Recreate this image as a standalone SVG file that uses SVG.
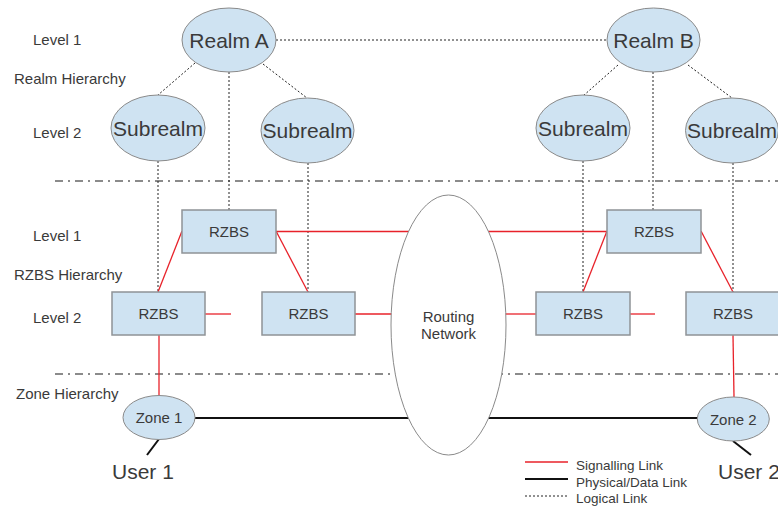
<svg xmlns="http://www.w3.org/2000/svg" width="778" height="506" viewBox="0 0 778 506">
<style>
text{font-family:"Liberation Sans",Arial,sans-serif;fill:#3a3a3a}
.lbl{font-size:15px}
.big{font-size:21px;text-anchor:middle}
.mid{font-size:15px;text-anchor:middle}
.leg{font-size:13.5px}
.node{fill:#cfe3f2;stroke:#8a8a8a;stroke-width:1}
.rect{fill:#cfe3f2;stroke:#8f9396;stroke-width:1.5}
.logic{stroke:#222;stroke-width:1;stroke-dasharray:2 2;fill:none}
.sig{stroke:#e8222a;stroke-width:1.3;fill:none}
.phys{stroke:#111;stroke-width:2;fill:none}
.sep{stroke:#666;stroke-width:1.5;stroke-dasharray:8 5 2 5;fill:none}
</style>
<rect width="778" height="506" fill="#fff"/>
<g id="labels">
<text class="lbl" x="33" y="45">Level 1</text>
<text class="lbl" x="14" y="84">Realm Hierarchy</text>
<text class="lbl" x="33" y="138">Level 2</text>
<text class="lbl" x="33" y="241">Level 1</text>
<text class="lbl" x="14" y="280">RZBS Hierarchy</text>
<text class="lbl" x="33" y="323">Level 2</text>
<text class="lbl" x="16" y="399">Zone Hierarchy</text>
</g>
<g id="separators">
<line class="sep" x1="55" y1="181" x2="778" y2="181"/>
<line class="sep" x1="55" y1="374" x2="778" y2="374"/>
</g>
<g id="connectors">
<line class="logic" x1="276" y1="40" x2="607" y2="40"/>
<line class="logic" x1="195" y1="63" x2="158" y2="95"/>
<line class="logic" x1="263" y1="64" x2="307" y2="98"/>
<line class="logic" x1="229" y1="72" x2="229" y2="210"/>
<line class="logic" x1="618" y1="65" x2="583" y2="96"/>
<line class="logic" x1="688" y1="65" x2="732" y2="98"/>
<line class="logic" x1="653" y1="72" x2="653" y2="210"/>
<line class="logic" x1="158" y1="161" x2="158" y2="292"/>
<line class="logic" x1="308" y1="163" x2="308" y2="292"/>
<line class="logic" x1="583" y1="161" x2="583" y2="292"/>
<line class="logic" x1="733" y1="163" x2="733" y2="292"/>
<line class="sig" x1="182" y1="231" x2="158" y2="292"/>
<line class="sig" x1="276" y1="231" x2="308" y2="292"/>
<line class="sig" x1="276" y1="231.5" x2="607" y2="231.5"/>
<line class="sig" x1="607" y1="231" x2="583" y2="292"/>
<line class="sig" x1="701" y1="231" x2="733" y2="292"/>
<line class="sig" x1="205" y1="314" x2="231" y2="314"/>
<line class="sig" x1="355" y1="314" x2="395" y2="314"/>
<line class="sig" x1="505" y1="314" x2="536" y2="314"/>
<line class="sig" x1="630" y1="314" x2="655" y2="314"/>
<line class="sig" x1="159" y1="335" x2="159" y2="396"/>
<line class="sig" x1="733" y1="335" x2="734" y2="397"/>
<line class="phys" x1="195" y1="418" x2="697" y2="418"/>
<line class="phys" x1="159" y1="439" x2="147" y2="455"/>
<line class="phys" x1="733" y1="441" x2="751" y2="455"/>
</g>
<g id="routing-network">
<ellipse cx="448.5" cy="325" rx="57.5" ry="130" fill="#fff" stroke="#8a8a8a" stroke-width="1"/>
<text class="mid" x="448.5" y="322">Routing</text>
<text class="mid" x="448.5" y="339">Network</text>
</g>
<g id="realm-a"><ellipse class="node" cx="229" cy="40" rx="47" ry="32"/><text class="big" x="229" y="48">Realm A</text></g>
<g id="realm-b"><ellipse class="node" cx="653.5" cy="40" rx="46.5" ry="32"/><text class="big" x="653.5" y="48">Realm B</text></g>
<g id="subrealm-1"><ellipse class="node" cx="158" cy="128" rx="47" ry="33"/><text class="big" x="158" y="136">Subrealm</text></g>
<g id="subrealm-2"><ellipse class="node" cx="307.5" cy="130.5" rx="46.5" ry="32.5"/><text class="big" x="307.5" y="138">Subrealm</text></g>
<g id="subrealm-3"><ellipse class="node" cx="583" cy="128" rx="47" ry="33"/><text class="big" x="583" y="136">Subrealm</text></g>
<g id="subrealm-4"><ellipse class="node" cx="732" cy="130.5" rx="46.5" ry="32.5"/><text class="big" x="732" y="138">Subrealm</text></g>
<g id="rzbs-l1-a"><rect class="rect" x="182" y="210" width="94" height="43"/><text class="mid" x="229" y="237">RZBS</text></g>
<g id="rzbs-l1-b"><rect class="rect" x="607" y="210" width="94" height="43"/><text class="mid" x="654" y="237">RZBS</text></g>
<g id="rzbs-l2-a"><rect class="rect" x="112" y="292" width="93" height="43"/><text class="mid" x="158.5" y="319">RZBS</text></g>
<g id="rzbs-l2-b"><rect class="rect" x="262" y="292" width="93" height="43"/><text class="mid" x="308.5" y="319">RZBS</text></g>
<g id="rzbs-l2-c"><rect class="rect" x="536" y="292" width="94" height="43"/><text class="mid" x="583" y="319">RZBS</text></g>
<g id="rzbs-l2-d"><rect class="rect" x="686" y="292" width="94" height="43"/><text class="mid" x="733" y="319">RZBS</text></g>
<g id="zone-1"><ellipse class="node" cx="159" cy="417.5" rx="36" ry="22"/><text class="mid" x="159" y="423">Zone 1</text></g>
<g id="zone-2"><ellipse class="node" cx="733.3" cy="419" rx="36" ry="22"/><text class="mid" x="733.3" y="425">Zone 2</text></g>
<g id="user-1"><text x="112" y="479" style="font-size:21px">User 1</text></g>
<g id="user-2"><text x="718" y="479" style="font-size:21px">User 2</text></g>
<g id="legend">
<line class="sig" x1="525" y1="462" x2="568" y2="462"/>
<line class="phys" x1="525" y1="479" x2="568" y2="479"/>
<line class="logic" x1="525" y1="496" x2="568" y2="496"/>
<text class="leg" x="576" y="470">Signalling Link</text>
<text class="leg" x="576" y="487">Physical/Data Link</text>
<text class="leg" x="576" y="503">Logical Link</text>
</g>
</svg>
